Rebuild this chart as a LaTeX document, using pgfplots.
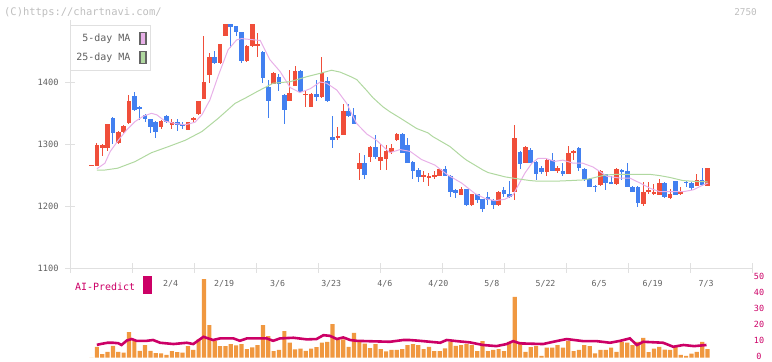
\documentclass[border=0pt]{standalone}
\usepackage{pgfplots}
\pgfplotsset{compat=1.18}
\usepackage{pgfplotstable}
\usepackage{fontspec}
\newfontfamily\mono{DejaVu Sans Mono}
\definecolor{cred}{RGB}{240,78,58}
\definecolor{cblue}{RGB}{66,128,240}
\definecolor{corg}{RGB}{240,152,64}
\definecolor{cmag}{RGB}{204,0,102}
\definecolor{cpink}{RGB}{232,176,232}
\definecolor{cgreen}{RGB}{176,216,160}
\definecolor{cax}{RGB}{224,224,224}
\definecolor{clab}{RGB}{96,96,96}
\definecolor{ccpy}{RGB}{190,190,190}
\definecolor{cdk}{RGB}{100,100,100}

\pgfplotstableread{
i o h l c
0 1266 1266 1266 1266
1 1265 1301 1264 1298
2 1294 1300 1280 1298
3 1294 1332 1289 1332
5 1302 1321 1300 1319
6 1319 1331 1318 1329
7 1334 1379 1333 1370
13 1328 1338 1325 1337
15 1330 1340 1325 1336
18 1323 1336 1322 1335
19 1339 1343 1336 1342
20 1348 1370 1347 1369
21 1373 1475 1372 1400
22 1411 1446 1399 1441
24 1430 1462 1429 1461
25 1475 1494 1474 1493
29 1434 1459 1433 1458
30 1458 1494 1457 1493
31 1458 1479 1440 1461
34 1397 1416 1396 1415
37 1370 1419 1369 1383
38 1394 1426 1393 1418
40 1379 1387 1360 1381
41 1360 1382 1359 1381
43 1376 1441 1375 1414
46 1311 1327 1307 1313
47 1315 1364 1314 1353
50 1260 1285 1242 1269
52 1279 1296 1271 1295
54 1273 1300 1258 1279
55 1276 1298 1258 1289
56 1287 1300 1284 1294
57 1306 1318 1305 1316
62 1247 1256 1238 1250
63 1245 1253 1232 1248
64 1247 1256 1243 1250
65 1249 1262 1248 1260
69 1218 1231 1217 1228
71 1201 1220 1200 1219
76 1201 1224 1200 1223
79 1223 1330 1209 1310
81 1270 1296 1269 1295
85 1255 1278 1249 1274
87 1257 1265 1253 1262
89 1252 1296 1251 1286
90 1285 1290 1274 1288
95 1234 1258 1233 1256
98 1236 1261 1234 1260
103 1203 1239 1200 1223
104 1222 1238 1219 1226
105 1219 1235 1218 1223
106 1218 1244 1217 1237
108 1213 1227 1212 1219
110 1219 1231 1218 1222
113 1233 1252 1232 1242
115 1233 1262 1232 1261
}\up

\pgfplotstableread{
i o h l c
4 1342 1343 1300 1318
8 1377 1384 1353 1355
9 1360 1361 1339 1356
10 1346 1348 1336 1340
11 1340 1341 1318 1328
12 1336 1337 1310 1320
14 1345 1347 1334 1336
16 1336 1340 1321 1330
17 1332 1336 1325 1329
23 1441 1450 1429 1430
26 1493 1494 1455 1489
27 1490 1491 1475 1480
28 1480 1481 1431 1434
32 1448 1450 1399 1407
33 1392 1404 1342 1369
35 1408 1413 1385 1397
36 1379 1380 1333 1355
39 1418 1419 1382 1384
42 1381 1403 1369 1376
44 1402 1408 1368 1370
45 1312 1345 1294 1306
48 1353 1364 1344 1345
49 1347 1358 1332 1333
51 1269 1282 1244 1250
53 1295 1314 1276 1279
58 1316 1318 1285 1286
59 1298 1310 1269 1270
60 1271 1272 1243 1257
61 1258 1261 1239 1247
66 1260 1265 1248 1249
67 1249 1250 1215 1222
68 1226 1228 1213 1221
70 1227 1228 1200 1201
72 1219 1220 1205 1209
73 1211 1212 1191 1195
74 1214 1223 1201 1209
75 1210 1211 1195 1201
77 1226 1231 1215 1219
78 1219 1240 1213 1214
80 1287 1288 1260 1268
82 1291 1293 1269 1270
83 1271 1272 1242 1252
84 1261 1264 1251 1255
86 1274 1286 1256 1257
88 1257 1270 1248 1252
91 1294 1295 1257 1261
92 1260 1261 1240 1243
93 1244 1245 1230 1231
94 1233 1234 1222 1230
96 1251 1252 1226 1237
97 1238 1249 1236 1237
99 1258 1259 1242 1255
100 1257 1270 1230 1231
101 1231 1232 1222 1223
102 1231 1232 1199 1205
107 1237 1238 1213 1214
109 1240 1241 1217 1218
111 1239 1240 1230 1237
112 1237 1238 1226 1229
114 1242 1262 1233 1234
}\dn

\pgfplotstableread{
i v
0 0
1 6.8
2 2.3
3 3.7
4 7.4
5 3.7
6 3.1
7 15.9
8 11.0
9 4.3
10 7.9
11 4.3
12 2.9
13 2.7
14 1.7
15 4.1
16 3.5
17 3.1
18 7.2
19 4.8
20 11.4
21 48.8
22 20.3
23 10.3
24 7.2
25 7.2
26 8.5
27 7.7
28 8.5
29 5.4
30 6.4
31 7.9
32 20.3
33 13.4
34 4.1
35 4.8
36 16.5
37 9.3
38 5.2
39 5.6
40 4.3
41 5.6
42 6.6
43 9.3
44 9.9
45 20.9
46 11.0
47 11.4
48 6.8
49 15.5
50 10.5
51 8.7
52 6.0
53 8.5
54 5.4
55 3.9
56 4.8
57 4.8
58 5.4
59 7.9
60 8.5
61 7.9
62 5.4
63 6.8
64 4.1
65 4.1
66 5.8
67 9.9
68 7.4
69 7.9
70 8.5
71 7.9
72 4.1
73 10.3
74 4.1
75 4.8
76 5.4
77 4.1
78 9.9
79 37.8
80 9.9
81 3.7
82 6.6
83 7.4
84 1.2
85 6.2
86 6.2
87 7.9
88 6.2
89 10.3
90 4.1
91 4.8
92 7.9
93 7.2
94 2.7
95 4.8
96 4.8
97 6.2
98 3.7
99 9.9
100 9.3
101 7.9
102 9.9
103 12.4
104 3.5
105 5.6
106 6.8
107 5.0
108 4.8
109 6.8
110 1.7
111 1.1
112 2.5
113 3.7
114 9.9
115 5.4
}\vol

\begin{document}
\begin{tikzpicture}[x=1bp,y=1bp]
\useasboundingbox (0,0) rectangle (772,361);
\node[anchor=west, text=ccpy, font=\mono\fontsize{10.5}{12}\selectfont, inner sep=0pt] at (4,348.5) {(C)https://chartnavi.com/};
\node[anchor=east, text=ccpy, font=\mono\fontsize{9.4}{11}\selectfont, inner sep=0pt] at (757,348.5) {2750};

\begin{axis}[
  at={(70bp,93bp)}, anchor=south west,
  width=682bp, height=248bp, scale only axis,
  xmin=-4.013, xmax=123.3, ymin=1100, ymax=1500,
  axis x line*=bottom, axis y line*=left,
  axis line style={draw=cax, line width=1bp, -},
  ytick={1100,1200,1300,1400}, yticklabels={1100,1200,1300,1400},
  y tick label style={font=\mono\fontsize{8.7}{10}\selectfont, text=clab, xshift=-3bp},
  xtick={14.75,24.75,...,114.75},
  xticklabels={2/4,2/19,3/6,3/23,4/6,4/20,5/8,5/22,6/5,6/19,7/3},
  x tick label style={font=\mono\fontsize{8.3}{10}\selectfont, text=clab, yshift=-4bp},
  tick align=center, major tick length=10bp,
  y tick style={draw=cax, line width=1bp},
  x tick style={draw=none},
  extra x ticks={-4.013,7.561,19.135,30.709,42.283,53.857,65.431,77.005,88.579,100.153,111.727,123.301},
  extra x tick labels={},
  extra x tick style={x tick style={draw=cax, line width=1bp}},
  legend style={at={(0,1)}, anchor=north west, yshift=-5bp, draw=cax, line width=1bp, fill=white,
    font=\mono\fontsize{10}{12}\selectfont, text=clab, inner xsep=4bp, inner ysep=6bp, row sep=6bp,
    /tikz/every odd column/.append style={column sep=7bp}},
  legend plot pos=right, legend cell align=right,
]
% wicks
\addplot[draw=none, forget plot, error bars/.cd, y dir=both, y explicit, error mark=none,
  error bar style={draw=cred, line width=1bp}]
  table[x=i, y expr={(\thisrow{h}+\thisrow{l})/2}, y error expr={(\thisrow{h}-\thisrow{l})/2}] {\up};
\addplot[draw=none, forget plot, error bars/.cd, y dir=both, y explicit, error mark=none,
  error bar style={draw=cblue, line width=1bp}]
  table[x=i, y expr={(\thisrow{h}+\thisrow{l})/2}, y error expr={(\thisrow{h}-\thisrow{l})/2}] {\dn};
% bodies
\addplot[draw=none, forget plot, error bars/.cd, y dir=both, y explicit, error mark=none,
  error bar style={draw=cred, line width=4.6bp}]
  table[x=i, y expr={(\thisrow{o}+\thisrow{c})/2}, y error expr={max(abs(\thisrow{c}-\thisrow{o})/2,0.8)}] {\up};
\addplot[draw=none, forget plot, error bars/.cd, y dir=both, y explicit, error mark=none,
  error bar style={draw=cblue, line width=4.6bp}]
  table[x=i, y expr={(\thisrow{o}+\thisrow{c})/2}, y error expr={max(abs(\thisrow{c}-\thisrow{o})/2,0.8)}] {\dn};
% moving averages
\addplot[cpink, line width=1bp, legend image code/.code={\draw[line width=1.3bp, draw=cdk, fill=cpink] (0bp,-6bp) rectangle (6bp,6bp);}] table {
1.0 1260
2.5 1269
3.5 1288
5.0 1306
6.6 1323
8.1 1336
9.7 1345
11.2 1349.5
12.2 1347
13.7 1337
15.6 1333
17.5 1331
19.3 1335
20.6 1347
22.1 1371
23.7 1411
25.5 1452
27.1 1468
28.0 1470
31.5 1467
33.3 1436
35.2 1417
37.1 1391
38.9 1383
40.8 1389
42.7 1400
43.9 1398
45.8 1387
47.6 1366
49.5 1333
51.4 1316
53.2 1306
55.7 1286
57.6 1291
59.5 1288
61.6 1275
64.1 1266
66.5 1250
69.1 1237
71.6 1220
73.5 1212
75.3 1208.5
77.2 1211
78.7 1218
79.7 1234
80.9 1253
82.2 1269
83.4 1277
84.7 1277
86.5 1272
88.0 1274
89.9 1269
91.7 1269
93.6 1263
96.2 1248
98.7 1245
100.5 1245
102.4 1237
104.3 1228.5
106.1 1223
110.4 1223
112.3 1226
114.2 1234
115.1 1237
};
\addlegendentry{5-day MA}
\addplot[cgreen, line width=1bp, legend image code/.code={\draw[line width=1.3bp, draw=cdk, fill=cgreen] (0bp,-6bp) rectangle (6bp,6bp);}] table {
1.0 1258
2.5 1258
4.9 1261
8.1 1271.5
11.2 1286
14.3 1295.6
17.5 1306
20.6 1320
23.6 1341
26.8 1365.6
28.7 1374
30.8 1384
33.9 1398
37.1 1400.5
40.2 1408.6
42.7 1414
44.8 1419
46.4 1416
48.3 1409
49.5 1404
51.4 1386
52.5 1375
54.4 1360
55.7 1352
57.6 1342
60.7 1325
62.8 1318
63.7 1312
66.9 1296
69.1 1280
70.0 1274
73.1 1258
74.0 1254
76.3 1249
77.2 1247
79.4 1244
81.9 1241
83.3 1240
86.5 1240
89.3 1241
91.7 1242
93.0 1244
95.9 1250
98.0 1251
104.3 1251
106.1 1249
108.0 1246
110.4 1241
113.0 1239.5
115.0 1239
};
\addlegendentry{25-day MA}
\end{axis}

\begin{axis}[
  at={(70bp,3.3bp)}, anchor=south west,
  width=682bp, height=80.4bp, scale only axis,
  xmin=-4.013, xmax=123.3, ymin=0, ymax=50,
  axis x line=none, axis y line*=right,
  axis line style={draw=none},
  ytick={0,10,20,30,40,50}, yticklabels={0,10,20,30,40,50},
  y tick label style={font=\mono\fontsize{8.5}{10}\selectfont, text=cmag, anchor=center, xshift=7bp, yshift=1bp},
  major tick length=0bp,
  clip=false,
  legend style={at={(0,1)}, anchor=north west, yshift=3.5bp, draw=none, fill=none,
    font=\mono\fontsize{10}{12}\selectfont, text=cmag, inner xsep=3bp, inner ysep=2bp,
    /tikz/every odd column/.append style={column sep=6bp}},
  legend plot pos=right,
]
\addplot[ybar, bar width=4.2bp, bar shift=0pt, fill=corg, draw=none, forget plot] table[x=i, y=v] {\vol};
\addplot[cmag, line width=2.6bp, legend image code/.code={\fill[cmag] (0bp,-4.5bp) rectangle (6bp,10.5bp);}] table {
1 8.0
2 8.7
3 9.3
4 9.3
5 9.0
5.6 7.9
6.6 10.7
7.5 11.6
8.4 10.5
10.3 10.5
11.5 11.0
12.8 9.3
15.3 8.5
17.8 9.3
19 8.5
20.9 13
22.7 11
24 12
26.5 12
27.7 10.5
29 12
32.7 12
33.9 10.5
35.2 12
37.7 12.4
40.2 11.4
42 11.6
43.3 14
44.5 13.6
45.8 11.6
47 12.6
48.3 11
49.5 10.5
51.4 10.3
55.7 9.9
58.2 11
59.4 11
61.3 10.5
63.2 9.9
65.1 9.3
66.3 11
68.2 10.3
70.7 9.5
73.1 7.9
75.6 7.2
77.5 8.5
78.7 10.3
80 8.9
84.3 8.5
86.2 9.9
88.7 11.6
91.8 10.3
94.3 10.3
96.8 9.3
98.7 10.5
100.5 12
101.8 7.9
103 9.9
106.7 9.3
108.6 6.8
110.5 7.9
112.5 7.2
114.8 7.9
};
\addlegendentry{AI-Predict}
\end{axis}
\end{tikzpicture}
\end{document}
